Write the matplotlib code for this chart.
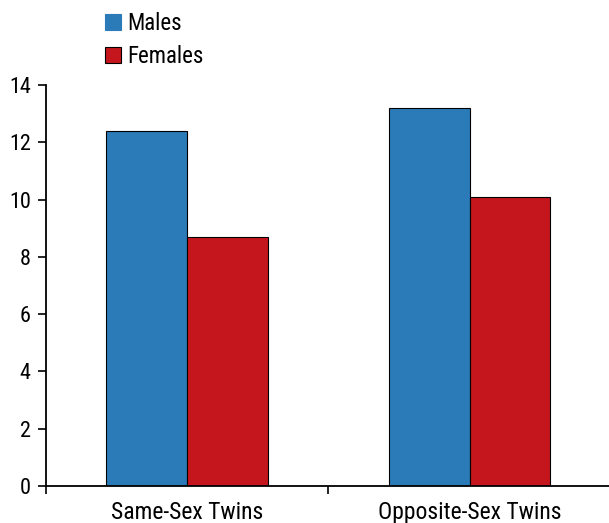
import numpy as np
import matplotlib
matplotlib.use("Agg")
import matplotlib.pyplot as plt
from matplotlib.patches import Patch
from matplotlib import font_manager

# narrow sans to stand in for Helvetica Condensed
installed = {f.name for f in font_manager.fontManager.ttflist}
narrow = [n for n in ["Roboto Condensed", "Archivo Narrow", "PT Sans Narrow",
                      "Liberation Sans Narrow"] if n in installed]
plt.rcParams['font.family'] = narrow[:1] + ['DejaVu Sans']

categories = ["Same-Sex Twins", "Opposite-Sex Twins"]
males = [12.4, 13.2]
females = [8.7, 10.1]
y_ticks = [0, 2, 4, 6, 8, 10, 12, 14]

blue = "#2B7BB9"
red = "#C4161C"

fig = plt.figure(figsize=(6.09, 5.23), dpi=100)
# axes run a little past the right edge so the x axis line reaches the border
ax = fig.add_axes([46 / 609, 37 / 523, 569 / 609, 401 / 523])

x = np.arange(len(categories))
w = 0.285
ax.bar(x - w / 2, males, w, color=blue, edgecolor="black", linewidth=0.8)
ax.bar(x + w / 2, females, w, color=red, edgecolor="black", linewidth=0.8)

ax.set_xlim(-0.498, 1.513)
ax.set_ylim(0, 14)
ax.set_yticks(y_ticks)
ax.xaxis.set_major_locator(matplotlib.ticker.FixedLocator([-0.498, 0.5]))
ax.xaxis.set_major_formatter(matplotlib.ticker.NullFormatter())
ax.set_xticks(x, minor=True)
ax.set_xticklabels(categories, minor=True)

ax.tick_params(axis="y", labelsize=16, length=6, width=1.2, pad=5)
ax.tick_params(axis="x", which="major", length=6, width=1.2)
ax.tick_params(axis="x", which="minor", length=0, labelsize=17, pad=11)

for side in ["top", "right"]:
    ax.spines[side].set_visible(False)
ax.spines["left"].set_linewidth(1.3)
ax.spines["bottom"].set_linewidth(1.3)

# legend sits above the plot, left of the first bar group
handles = [Patch(facecolor=blue, edgecolor=blue, linewidth=0.8),
           Patch(facecolor=red, edgecolor="black", linewidth=0.8)]
fig.legend(handles, ["Males", "Females"], loc="upper left", bbox_to_anchor=(96 / 609, 1 - 3 / 523),
           frameon=False, fontsize=16.5, handlelength=0.7, handleheight=0.7,
           handletextpad=0.28, labelspacing=0.45, borderaxespad=0)

fig.savefig("out.png", dpi=100)
